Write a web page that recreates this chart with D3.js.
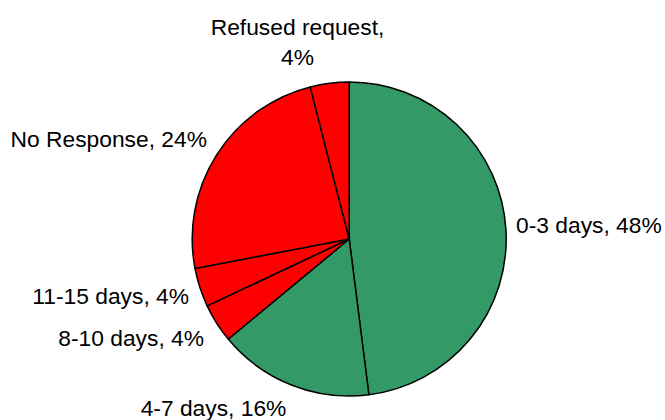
<!DOCTYPE html>
<html>
<head>
<meta charset="utf-8">
<script src="https://cdn.jsdelivr.net/npm/d3@7"></script>
<style>
  html, body { margin: 0; padding: 0; background: #fff; }
  svg { display: block; }
  text { font-family: "Liberation Sans", Arial, sans-serif; font-size: 22.8px; fill: #000; }
</style>
</head>
<body>
<svg id="chart" width="665" height="420"></svg>
<script>
const categories = ["0-3 days", "4-7 days", "8-10 days", "11-15 days", "No Response", "Refused request"];
const values = [48, 16, 4, 4, 24, 4];
const colors = ["#339966", "#339966", "#FF0000", "#FF0000", "#FF0000", "#FF0000"];

// label layout (text lines, anchor point, text-anchor)
const labelLayout = {
  "0-3 days":        { lines: ["0-3 days, 48%"], x: 516, y: 233, anchor: "start" },
  "4-7 days":        { lines: ["4-7 days, 16%"], x: 213.5, y: 416, anchor: "middle" },
  "8-10 days":       { lines: ["8-10 days, 4%"], x: 204, y: 346, anchor: "end" },
  "11-15 days":      { lines: ["11-15 days, 4%"], x: 189, y: 304, anchor: "end" },
  "No Response":     { lines: ["No Response, 24%"], x: 207, y: 147, anchor: "end" },
  "Refused request": { lines: ["Refused request,", "4%"], x: 297.5, y: 35, anchor: "middle" }
};

const data = categories.map((c, i) => ({ cat: c, value: values[i], color: colors[i] }));

const svg = d3.select("#chart");
const cx = 349.2, cy = 239, r = 157;
const g = svg.append("g").attr("transform", `translate(${cx},${cy})`);

const pie = d3.pie().sort(null).value(d => d.value);
const arc = d3.arc().innerRadius(0).outerRadius(r);

g.selectAll("path")
  .data(pie(data))
  .join("path")
  .attr("d", arc)
  .attr("fill", d => d.data.color)
  .attr("stroke", "#000")
  .attr("stroke-width", 1.5)
  .attr("stroke-linejoin", "round");

data.forEach(d => {
  const L = labelLayout[d.cat];
  const t = svg.append("text")
    .attr("x", L.x).attr("y", L.y)
    .attr("text-anchor", L.anchor);
  L.lines.forEach((line, i) => {
    t.append("tspan").attr("x", L.x).attr("dy", i === 0 ? 0 : 30).text(line);
  });
});
</script>
</body>
</html>
